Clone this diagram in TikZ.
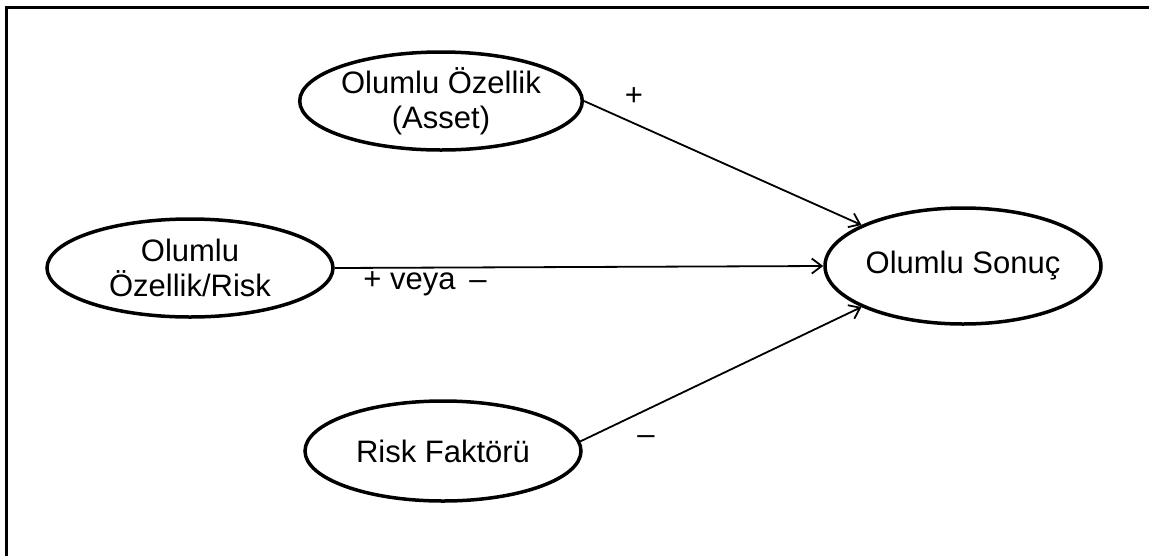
\documentclass[tikz,border=0pt]{standalone}
\usepackage{fontspec}
\setmainfont{Liberation Sans}
\usetikzlibrary{shapes.geometric,arrows.meta}
\begin{document}
\begin{tikzpicture}[x=1pt,y=-1pt,
  oval/.style={draw=black,line width=3.5pt,ellipse,inner sep=0pt,align=center,
    font=\fontsize{31}{35}\selectfont},
  conn/.style={line width=1.8pt,-{Straight Barb[length=10pt,width=15pt,line width=1.8pt]}},
  lbl/.style={font=\fontsize{31}{35}\selectfont,inner sep=0pt}]
\useasboundingbox (0,0) rectangle (1149,555);
\fill[white] (0,0) rectangle (1149,555);
\draw[line width=3pt] (6,560) -- (6,7) -- (1155,7);
\node[oval,minimum width=276pt,minimum height=98pt] (asset) at (441,101) {Olumlu Özellik\\(Asset)};
\node[oval,minimum width=286pt,minimum height=98pt] (mix) at (190,268) {Olumlu\\Özellik/Risk};
\node[oval,minimum width=276pt,minimum height=100pt] (risk) at (443,451) {Risk Faktörü};
\node[oval,minimum width=276pt,minimum height=116pt] (son) at (963,266) {Olumlu Sonuç};
\draw[conn] (asset.east) -- (son.158);
\draw[conn] (mix.east) -- (son.west);
\draw[conn] (risk.4) -- (son.202);
\node[lbl] (p1) at (634,97) {+};
\node[lbl] (p2) at (425,284) {+ veya \,–};
\node[lbl] (p3) at (646,440) {–};
\end{tikzpicture}
\end{document}
